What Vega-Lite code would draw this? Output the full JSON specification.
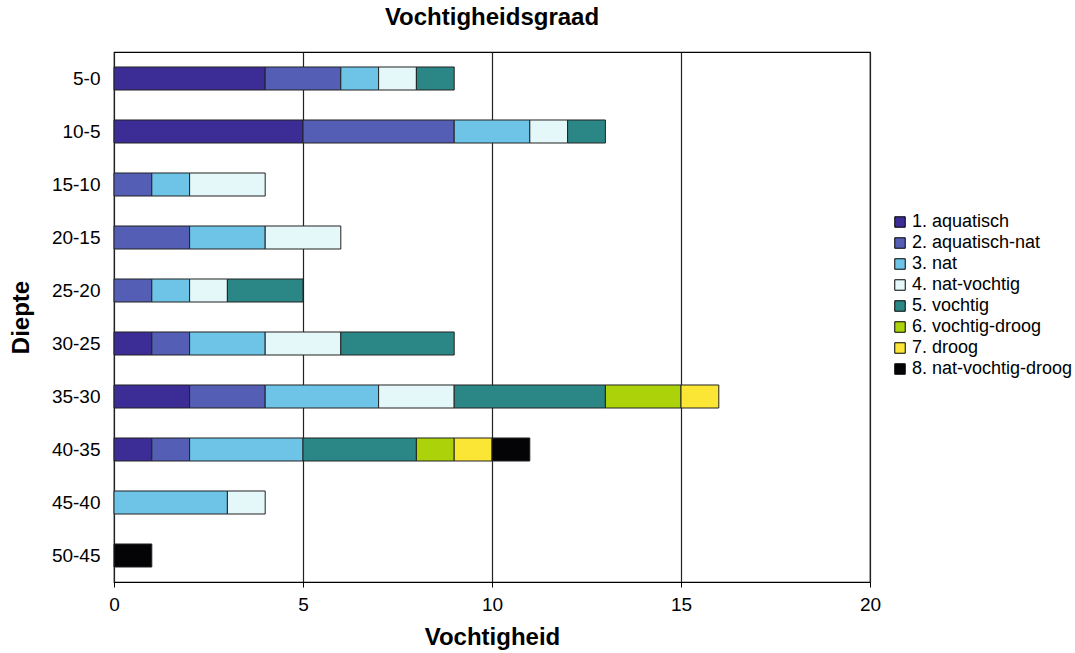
{
  "$schema": "https://vega.github.io/schema/vega-lite/v6.json",
  "autosize": "none",
  "width": 756,
  "height": 530,
  "padding": {"left": 114, "top": 52, "right": 205, "bottom": 71},
  "background": "white",
  "title": {
    "text": "Vochtigheidsgraad",
    "font": "Liberation Sans",
    "fontSize": 24,
    "fontWeight": "bold",
    "color": "black",
    "anchor": "middle",
    "offset": 22
  },
  "config": {
    "view": {"stroke": "black", "strokeWidth": 1.2},
    "font": "Liberation Sans"
  },
  "data": {
    "values": [
      {"diepte": "5-0", "klasse": "1. aquatisch", "waarde": 4},
      {"diepte": "5-0", "klasse": "2. aquatisch-nat", "waarde": 2},
      {"diepte": "5-0", "klasse": "3. nat", "waarde": 1},
      {"diepte": "5-0", "klasse": "4. nat-vochtig", "waarde": 1},
      {"diepte": "5-0", "klasse": "5. vochtig", "waarde": 1},
      {"diepte": "10-5", "klasse": "1. aquatisch", "waarde": 5},
      {"diepte": "10-5", "klasse": "2. aquatisch-nat", "waarde": 4},
      {"diepte": "10-5", "klasse": "3. nat", "waarde": 2},
      {"diepte": "10-5", "klasse": "4. nat-vochtig", "waarde": 1},
      {"diepte": "10-5", "klasse": "5. vochtig", "waarde": 1},
      {"diepte": "15-10", "klasse": "2. aquatisch-nat", "waarde": 1},
      {"diepte": "15-10", "klasse": "3. nat", "waarde": 1},
      {"diepte": "15-10", "klasse": "4. nat-vochtig", "waarde": 2},
      {"diepte": "20-15", "klasse": "2. aquatisch-nat", "waarde": 2},
      {"diepte": "20-15", "klasse": "3. nat", "waarde": 2},
      {"diepte": "20-15", "klasse": "4. nat-vochtig", "waarde": 2},
      {"diepte": "25-20", "klasse": "2. aquatisch-nat", "waarde": 1},
      {"diepte": "25-20", "klasse": "3. nat", "waarde": 1},
      {"diepte": "25-20", "klasse": "4. nat-vochtig", "waarde": 1},
      {"diepte": "25-20", "klasse": "5. vochtig", "waarde": 2},
      {"diepte": "30-25", "klasse": "1. aquatisch", "waarde": 1},
      {"diepte": "30-25", "klasse": "2. aquatisch-nat", "waarde": 1},
      {"diepte": "30-25", "klasse": "3. nat", "waarde": 2},
      {"diepte": "30-25", "klasse": "4. nat-vochtig", "waarde": 2},
      {"diepte": "30-25", "klasse": "5. vochtig", "waarde": 3},
      {"diepte": "35-30", "klasse": "1. aquatisch", "waarde": 2},
      {"diepte": "35-30", "klasse": "2. aquatisch-nat", "waarde": 2},
      {"diepte": "35-30", "klasse": "3. nat", "waarde": 3},
      {"diepte": "35-30", "klasse": "4. nat-vochtig", "waarde": 2},
      {"diepte": "35-30", "klasse": "5. vochtig", "waarde": 4},
      {"diepte": "35-30", "klasse": "6. vochtig-droog", "waarde": 2},
      {"diepte": "35-30", "klasse": "7. droog", "waarde": 1},
      {"diepte": "40-35", "klasse": "1. aquatisch", "waarde": 1},
      {"diepte": "40-35", "klasse": "2. aquatisch-nat", "waarde": 1},
      {"diepte": "40-35", "klasse": "3. nat", "waarde": 3},
      {"diepte": "40-35", "klasse": "5. vochtig", "waarde": 3},
      {"diepte": "40-35", "klasse": "6. vochtig-droog", "waarde": 1},
      {"diepte": "40-35", "klasse": "7. droog", "waarde": 1},
      {"diepte": "40-35", "klasse": "8. nat-vochtig-droog", "waarde": 1},
      {"diepte": "45-40", "klasse": "3. nat", "waarde": 3},
      {"diepte": "45-40", "klasse": "4. nat-vochtig", "waarde": 1},
      {"diepte": "50-45", "klasse": "8. nat-vochtig-droog", "waarde": 1}
    ]
  },
  "mark": {"type": "bar", "stroke": "#222222", "strokeWidth": 1},
  "encoding": {
    "y": {
      "field": "diepte",
      "type": "nominal",
      "sort": ["5-0", "10-5", "15-10", "20-15", "25-20", "30-25", "35-30", "40-35", "45-40", "50-45"],
      "scale": {"paddingInner": 0.566},
      "axis": {
        "title": "Diepte",
        "titleFontSize": 24,
        "titleFontWeight": "bold",
        "titleColor": "black",
        "titlePadding": 18,
        "labelFontSize": 19,
        "labelColor": "black",
        "labelPadding": 14,
        "ticks": false,
        "domain": false,
        "grid": false
      }
    },
    "x": {
      "field": "waarde",
      "type": "quantitative",
      "aggregate": "sum",
      "scale": {"domain": [0, 20], "nice": false},
      "axis": {
        "title": "Vochtigheid",
        "titleFontSize": 24,
        "titleFontWeight": "bold",
        "titleColor": "black",
        "titlePadding": 11,
        "values": [0, 5, 10, 15, 20],
        "labelFontSize": 19,
        "labelColor": "black",
        "labelPadding": 8,
        "labelFlush": false,
        "tickSize": 5,
        "tickColor": "black",
        "domain": false,
        "grid": true,
        "gridColor": "#222222",
        "gridOpacity": 1,
        "gridWidth": 1.2
      }
    },
    "color": {
      "field": "klasse",
      "type": "nominal",
      "scale": {
        "domain": ["1. aquatisch", "2. aquatisch-nat", "3. nat", "4. nat-vochtig", "5. vochtig", "6. vochtig-droog", "7. droog", "8. nat-vochtig-droog"],
        "range": ["#3b2c96", "#535eb4", "#6ec4e6", "#e4f7f9", "#2a8786", "#acd20a", "#fbe535", "#040406"]
      },
      "legend": {
        "title": null,
        "orient": "none",
        "legendX": 777,
        "legendY": 161,
        "symbolType": "square",
        "symbolSize": 110,
        "symbolStrokeColor": "black",
        "symbolStrokeWidth": 1,
        "labelFontSize": 18,
        "labelColor": "black",
        "labelOffset": 3,
        "labelLimit": 300,
        "rowPadding": 3
      }
    },
    "order": {"field": "klasse", "sort": "ascending"}
  }
}
